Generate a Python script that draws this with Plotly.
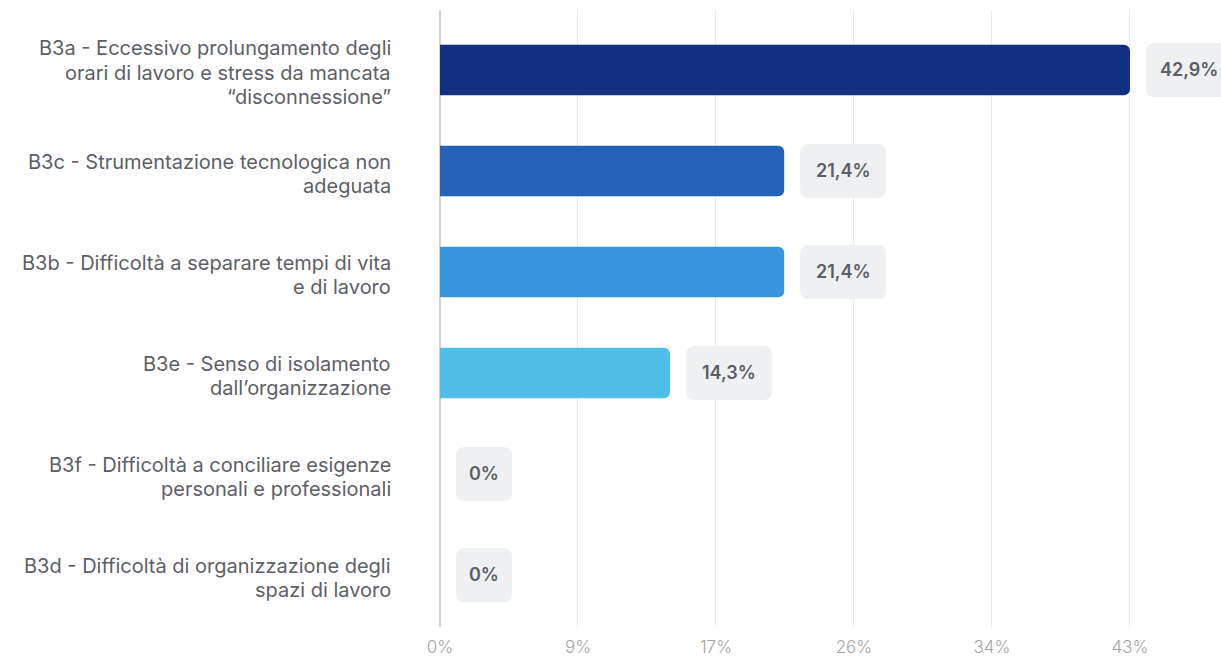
import plotly.graph_objects as go

# Survey items (line breaks as shown in the axis labels) and their shares in %
categories = [
    "B3a - Eccessivo prolungamento degli\norari di lavoro e stress da mancata\n\u201cdisconnessione\u201d",
    "B3c - Strumentazione tecnologica non\nadeguata",
    "B3b - Difficoltà a separare tempi di vita\ne di lavoro",
    "B3e - Senso di isolamento\ndall\u2019organizzazione",
    "B3f - Difficoltà a conciliare esigenze\npersonali e professionali",
    "B3d - Difficoltà di organizzazione degli\nspazi di lavoro",
]
values = [42.9, 21.4, 21.4, 14.3, 0.0, 0.0]
value_labels = ["42,9%", "21,4%", "21,4%", "14,3%", "0%", "0%"]
tick_vals = [0, 8.58, 17.16, 25.74, 34.32, 42.9]
tick_text = ["0%", "9%", "17%", "26%", "34%", "43%"]

bar_colors = ["#12307f", "#2461b8", "#3794dd", "#4fbfea", "#7fd3f2", "#a6e1f6"]

keys = [c.replace("\n", " ") for c in categories]

fig = go.Figure(
    go.Bar(
        x=values,
        y=keys,
        orientation="h",
        width=0.5,
        marker=dict(color=bar_colors, cornerradius=6, line=dict(width=0)),
        hoverinfo="skip",
    )
)

# rounded value badges right of each bar
box_h = 54
gap = 16
radius = 9
for key, v, lab in zip(keys, values, value_labels):
    w = 36 + 10 * len(lab)
    x0, x1 = gap, gap + w
    y0, y1 = -box_h / 2, box_h / 2
    r = radius
    path = (
        f"M {x0 + r},{y0} L {x1 - r},{y0} Q {x1},{y0} {x1},{y0 + r} "
        f"L {x1},{y1 - r} Q {x1},{y1} {x1 - r},{y1} L {x0 + r},{y1} "
        f"Q {x0},{y1} {x0},{y1 - r} L {x0},{y0 + r} Q {x0},{y0} {x0 + r},{y0} Z"
    )
    fig.add_shape(
        type="path",
        path=path,
        xref="x",
        yref="y",
        xsizemode="pixel",
        ysizemode="pixel",
        xanchor=v,
        yanchor=key,
        fillcolor="#eef0f2",
        line=dict(width=0),
        layer="above",
    )
    fig.add_annotation(
        x=v,
        y=key,
        xref="x",
        yref="y",
        text=lab,
        showarrow=False,
        xanchor="center",
        yanchor="middle",
        xshift=gap + w / 2,
        font=dict(family="Inter, Roboto, sans-serif", size=18, color="#5a5f67", weight=600),
    )

# multi-line category labels, right-aligned left of the plot
line_gap = 24.5
for key, cat in zip(keys, categories):
    lines = cat.split("\n")
    n = len(lines)
    for i, ln in enumerate(lines):
        fig.add_annotation(
            x=0,
            y=key,
            xref="paper",
            yref="y",
            text=ln,
            showarrow=False,
            xanchor="right",
            yanchor="middle",
            xshift=-47,
            yshift=((n - 1) / 2 - i) * line_gap - 3,
            font=dict(family="Inter, Roboto, sans-serif", size=20, color="#5c6066"),
        )

fig.update_layout(
    width=1221,
    height=662,
    margin=dict(l=440, r=0, t=10, b=35),
    paper_bgcolor="white",
    plot_bgcolor="white",
    showlegend=False,
    xaxis=dict(
        range=[0, 48.56],
        tickvals=tick_vals,
        ticktext=tick_text,
        showgrid=True,
        gridcolor="#e9e9e9",
        gridwidth=1,
        zeroline=True,
        zerolinecolor="#d2d2d2",
        zerolinewidth=1.5,
        showline=False,
        ticks="",
        ticklabelstandoff=8,
        tickfont=dict(family="Inter, Roboto, sans-serif", size=17, color="#a3a3a3", weight=300),
        fixedrange=True,
    ),
    yaxis=dict(
        type="category",
        categoryorder="array",
        categoryarray=keys,
        range=[5.515, -0.594],
        showticklabels=False,
        showgrid=False,
        zeroline=False,
        ticks="",
        fixedrange=True,
    ),
)

fig.write_html("out.html")
